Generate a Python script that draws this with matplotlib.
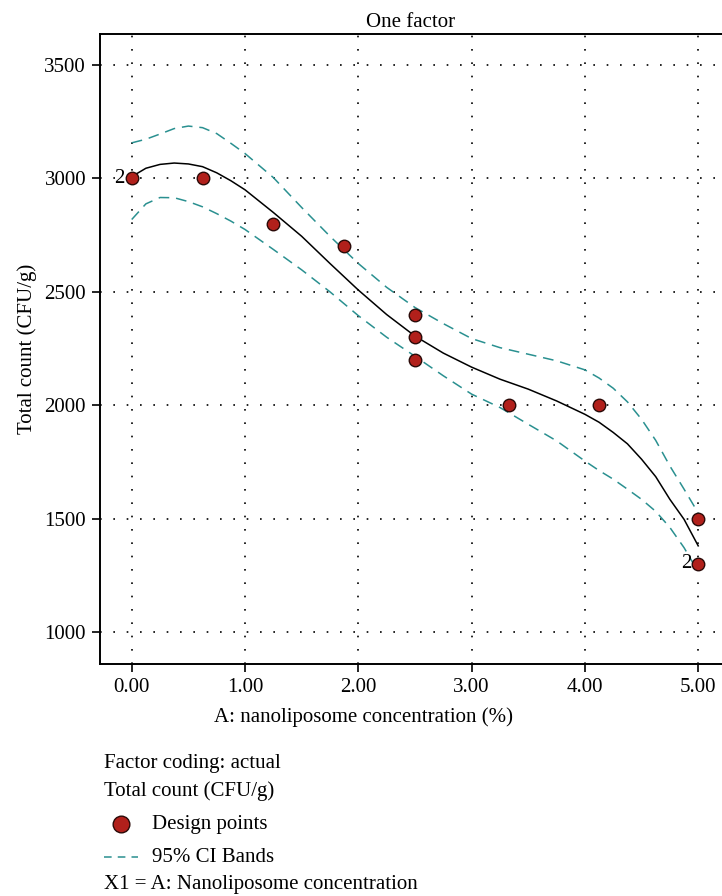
import matplotlib
matplotlib.use('Agg')
import matplotlib.pyplot as plt
from matplotlib.lines import Line2D

plt.rcParams['font.family'] = ['Liberation Serif', 'DejaVu Serif']

# design points (x = nanoliposome %, y = total count)
design_x = [0.0, 0.625, 1.25, 1.875, 2.5, 2.5, 2.5, 3.33, 4.125, 5.0, 5.0]
design_y = [3000, 3000, 2800, 2700, 2400, 2300, 2200, 2000, 2000, 1500, 1300]

# points that are replicated (shown with "2")
rep_x = [0.0, 5.0]
rep_y = [3000, 1300]
rep_lab = ['2', '2']

# curves (finer steps where they bend)
curve_x = [0.0, 0.125, 0.25, 0.375, 0.5, 0.625, 0.75, 0.875, 1.0,
           1.25, 1.5, 1.75, 2.0, 2.25, 2.5, 2.75, 3.0, 3.25, 3.5, 3.75, 4.0,
           4.125, 4.25, 4.375, 4.5, 4.625, 4.75, 4.875, 5.0]
fit_y = [3008, 3045, 3062, 3068, 3064, 3052, 3025, 2990, 2950,
         2850, 2745, 2625, 2508, 2400, 2305, 2230, 2168, 2115, 2071, 2019, 1960,
         1925, 1880, 1830, 1762, 1685, 1585, 1497, 1380]
upper_y = [3157, 3173, 3196, 3220, 3231, 3224, 3198, 3155, 3110,
           3004, 2872, 2745, 2625, 2520, 2431, 2360, 2294, 2254, 2225, 2196, 2156,
           2120, 2075, 2015, 1938, 1845, 1732, 1630, 1525]
lower_y = [2819, 2888, 2916, 2915, 2898, 2875, 2845, 2812, 2775,
           2687, 2597, 2500, 2395, 2300, 2216, 2130, 2049, 1990, 1916, 1843, 1754,
           1712, 1674, 1630, 1585, 1532, 1461, 1372, 1265]

x_ticks = [0, 1, 2, 3, 4, 5]
y_ticks = [1000, 1500, 2000, 2500, 3000, 3500]

red = '#b1201b'
teal = '#2a9090'
fs = 15

fig = plt.figure(figsize=(7.22, 8.96), dpi=100)
ax = fig.add_axes([100 / 722, 1 - 664 / 896, 622 / 722, 630 / 896])

ax.plot(curve_x, upper_y, color=teal, lw=1.1, dashes=(7, 4.5))
ax.plot(curve_x, lower_y, color=teal, lw=1.1, dashes=(7, 4.5))
ax.plot(curve_x, fit_y, color='black', lw=1.1)
ax.plot(design_x, design_y, 'o', ms=9, mfc=red, mec='#2a0a08', mew=1.0, zorder=5)
for x, y, t in zip(rep_x, rep_y, rep_lab):
    ax.annotate(t, (x, y), xytext=(-5, 0), textcoords='offset points',
                ha='right', va='center', fontsize=fs)

ax.set_xlim(-0.28, 5.21)
ax.set_ylim(859, 3637)
ax.set_xticks(x_ticks)
ax.set_xticklabels(['%.2f' % v for v in x_ticks])
ax.set_yticks(y_ticks)
ax.grid(True, color='black', lw=1.2, ls=(0, (1, 7)))
ax.tick_params(direction='out', length=6, width=1.2, labelsize=fs, pad=4)
ax.spines['right'].set_visible(False)
for s in ['left', 'bottom', 'top']:
    ax.spines[s].set_linewidth(1.4)

ax.set_title('One factor', fontsize=fs, pad=5)
ax.set_xlabel('A: nanoliposome concentration (%)', fontsize=fs)
ax.xaxis.set_label_coords(0.424, -0.068)
ax.set_ylabel('Total count (CFU/g)', fontsize=fs, labelpad=5)

# legend block under the plot
fig.text(104 / 722, 1 - 763 / 896, 'Factor coding: actual', fontsize=fs, va='center')
fig.text(104 / 722, 1 - 791 / 896, 'Total count (CFU/g)', fontsize=fs, va='center')
fig.add_artist(Line2D([121 / 722], [1 - 824 / 896], marker='o', ms=12, mfc=red,
                      mec='#2a0a08', mew=1.0, transform=fig.transFigure))
fig.text(152 / 722, 1 - 824 / 896, 'Design points', fontsize=fs, va='center')
fig.add_artist(Line2D([104 / 722, 138 / 722], [1 - 857 / 896, 1 - 857 / 896],
                      color=teal, lw=1.1, dashes=(5, 4), transform=fig.transFigure))
fig.text(152 / 722, 1 - 857 / 896, '95% CI Bands', fontsize=fs, va='center')
fig.text(104 / 722, 1 - 884 / 896, 'X1 = A: Nanoliposome concentration', fontsize=fs, va='center')

fig.savefig('out.png', dpi=100)
